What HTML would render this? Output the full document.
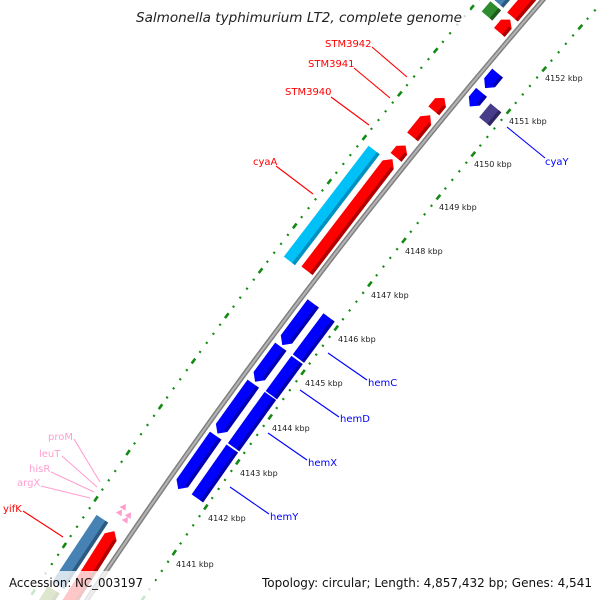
<!DOCTYPE html>
<html><head><meta charset="utf-8"><style>
html,body{margin:0;padding:0;background:#fff;overflow:hidden;width:600px;height:600px;}
#w{width:600px;height:600px;overflow:hidden;position:relative;}
svg{display:block;overflow:hidden;}
.lb{font-family:"DejaVu Sans","Liberation Sans",sans-serif;font-size:10px;}
.tk{font-family:"DejaVu Sans","Liberation Sans",sans-serif;font-size:8px;fill:#222;}
</style></head><body><div id="w">
<svg width="600" height="600" viewBox="0 0 600 600" xmlns="http://www.w3.org/2000/svg">
<defs><clipPath id="c"><rect width="600" height="600"/></clipPath></defs>
<g clip-path="url(#c)">
<rect width="600" height="600" fill="#fff"/>
<path d="M 2.5 639.4 A 5970 5970 0 0 1 545.6 -77.5" fill="none" stroke="#138a13" stroke-width="2.2" stroke-dasharray="2 9.254" stroke-dashoffset="1"/>
<path d="M 2.5 639.4 A 5970 5970 0 0 1 545.6 -77.5" fill="none" stroke="#138a13" stroke-width="2.6" stroke-dasharray="6 50.27" stroke-dashoffset="3"/>
<path d="M 82.3 690.9 A 5875 5875 0 0 1 616.8 -14.6" fill="none" stroke="#138a13" stroke-width="2.2" stroke-dasharray="2 9.074" stroke-dashoffset="1"/>
<path d="M 82.3 690.9 A 5875 5875 0 0 1 616.8 -14.6" fill="none" stroke="#138a13" stroke-width="2.6" stroke-dasharray="6 49.37" stroke-dashoffset="3"/>
<path d="M 43.6 665.9 A 5921 5921 0 0 1 582.3 -45.1" fill="none" stroke="#808080" stroke-width="5"/>
<path d="M 43.6 665.9 A 5921 5921 0 0 1 582.3 -45.1" fill="none" stroke="#b4b4b4" stroke-width="2"/>

<g transform="translate(5019 3876)">
 <g transform="rotate(217.393)"><rect x="5946" y="0" width="14" height="139.5" fill="#00c0f8"/><rect x="5946" y="0" width="3.5" height="139.5" fill="#0090c0"/></g>
 <g transform="rotate(217.42)"><polygon points="5926,0 5940,0 5940,133.6 5933,140.6 5926,133.6" fill="#ff0000"/><rect x="5926" y="0" width="3.5" height="133.6" fill="#b00000"/></g>
 <g transform="rotate(218.813)"><polygon points="5926,0 5940,0 5940,9.1 5933,15.1 5926,9.1" fill="#ff0000"/><rect x="5926" y="0" width="3.5" height="9.1" fill="#b00000"/></g>
 <g transform="rotate(219.067)"><polygon points="5926,0 5940,0 5940,20.9 5933,27.9 5926,20.9" fill="#ff0000"/><rect x="5926" y="0" width="3.5" height="20.9" fill="#b00000"/></g>
 <g transform="rotate(219.391)"><polygon points="5926,0 5940,0 5940,10.7 5933,16.7 5926,10.7" fill="#ff0000"/><rect x="5926" y="0" width="3.5" height="10.7" fill="#b00000"/></g>
 <g transform="rotate(220.379)"><polygon points="5926,0 5940,0 5940,10.7 5933,16.7 5926,10.7" fill="#ff0000"/><rect x="5926" y="0" width="3.5" height="10.7" fill="#b00000"/></g>
 <g transform="rotate(220.574)"><rect x="5926" y="0" width="14" height="176" fill="#ff0000"/><rect x="5926" y="0" width="3.5" height="176" fill="#b00000"/></g>
 <g transform="rotate(220.422)"><rect x="5946" y="0" width="14" height="13.4" fill="#2e8b2e"/><rect x="5946" y="0" width="3.5" height="13.4" fill="#1c5c1c"/></g>
 <g transform="rotate(220.584)"><rect x="5946" y="0" width="14" height="177" fill="#4682b4"/><rect x="5946" y="0" width="3.5" height="177" fill="#2d5a80"/></g>
 <g transform="rotate(213.559)"><rect x="5946" y="0" width="14" height="79.8" fill="#4682b4"/><rect x="5946" y="0" width="3.5" height="79.8" fill="#2d5a80"/></g>
 <g transform="rotate(212.29)"><rect x="5946" y="0" width="14" height="125.6" fill="#6b8e23"/><rect x="5946" y="0" width="3.5" height="125.6" fill="#4a6218"/></g>
 <g transform="rotate(212.29)"><polygon points="5926,0 5940,0 5940,200.6 5933,207.6 5926,200.6" fill="#ff0000"/><rect x="5926" y="0" width="3.5" height="200.6" fill="#b00000"/></g>
 <g transform="rotate(214.423)"><polygon points="5930,0 5937,0 5933.5,6" fill="#ff9fd0"/></g>
 <g transform="rotate(214.477)"><polygon points="5930,0 5937,0 5933.5,6" fill="#ff9fd0"/></g>
 <g transform="rotate(214.45)"><polygon points="5939,0 5946,0 5942.5,6" fill="#ff9fd0"/></g>
 <g transform="rotate(214.515)"><polygon points="5939,0 5946,0 5942.5,6" fill="#ff9fd0"/></g>
 <g transform="rotate(214.979)"><polygon points="5901,7 5908,0 5915,7 5915,65.3 5901,65.3" fill="#0000ff"/><rect x="5901" y="7" width="3.5" height="58.3" fill="#0000b0"/></g>
 <g transform="rotate(215.638)"><polygon points="5901,7 5908,0 5915,7 5915,61.4 5901,61.4" fill="#0000ff"/><rect x="5901" y="7" width="3.5" height="54.4" fill="#0000b0"/></g>
 <g transform="rotate(216.259)"><polygon points="5901,7 5908,0 5915,7 5915,43.5 5901,43.5" fill="#0000ff"/><rect x="5901" y="7" width="3.5" height="36.5" fill="#0000b0"/></g>
 <g transform="rotate(216.702)"><polygon points="5901,7 5908,0 5915,7 5915,51.9 5901,51.9" fill="#0000ff"/><rect x="5901" y="7" width="3.5" height="44.9" fill="#0000b0"/></g>
 <g transform="rotate(215.012)"><rect x="5880" y="0" width="14" height="60.8" fill="#0000ff"/><rect x="5880" y="0" width="3.5" height="60.8" fill="#0000b0"/></g>
 <g transform="rotate(215.622)"><rect x="5880" y="0" width="14" height="63.1" fill="#0000ff"/><rect x="5880" y="0" width="3.5" height="63.1" fill="#0000b0"/></g>
 <g transform="rotate(216.248)"><rect x="5880" y="0" width="14" height="43.5" fill="#0000ff"/><rect x="5880" y="0" width="3.5" height="43.5" fill="#0000b0"/></g>
 <g transform="rotate(216.691)"><rect x="5880" y="0" width="14" height="51.3" fill="#0000ff"/><rect x="5880" y="0" width="3.5" height="51.3" fill="#0000b0"/></g>
 <g transform="rotate(219.645)"><polygon points="5901,7 5908,0 5915,7 5915,18.4 5901,18.4" fill="#0000ff"/><rect x="5901" y="7" width="3.5" height="11.4" fill="#0000b0"/></g>
 <g transform="rotate(219.877)"><polygon points="5901,7 5908,0 5915,7 5915,19.5 5901,19.5" fill="#0000ff"/><rect x="5901" y="7" width="3.5" height="12.5" fill="#0000b0"/></g>
 <g transform="rotate(219.623)"><rect x="5880" y="0" width="14" height="17.9" fill="#483d8b"/><rect x="5880" y="0" width="3.5" height="17.9" fill="#2e2660"/></g>
</g>

<text class="tk" x="176" y="567">4141 kbp</text>
<text class="tk" x="208" y="521">4142 kbp</text>
<text class="tk" x="240" y="476">4143 kbp</text>
<text class="tk" x="272" y="431">4144 kbp</text>
<text class="tk" x="305" y="386">4145 kbp</text>
<text class="tk" x="338" y="342">4146 kbp</text>
<text class="tk" x="371" y="298">4147 kbp</text>
<text class="tk" x="405" y="254">4148 kbp</text>
<text class="tk" x="439" y="210">4149 kbp</text>
<text class="tk" x="474" y="167">4150 kbp</text>
<text class="tk" x="509" y="124">4151 kbp</text>
<text class="tk" x="545" y="81">4152 kbp</text>

<g stroke-width="1.1" fill="none">
 <line x1="372" y1="47" x2="407" y2="77" stroke="#ff0000"/>
 <line x1="354" y1="68" x2="390" y2="98" stroke="#ff0000"/>
 <line x1="331" y1="97" x2="369" y2="125" stroke="#ff0000"/>
 <line x1="276" y1="166" x2="313" y2="194" stroke="#ff0000"/>
 <line x1="23" y1="511" x2="63" y2="537" stroke="#ff0000"/>
 <line x1="74" y1="439" x2="100" y2="482" stroke="#ff9fd0"/>
 <line x1="62" y1="456" x2="97" y2="487" stroke="#ff9fd0"/>
 <line x1="51" y1="472" x2="94" y2="492" stroke="#ff9fd0"/>
 <line x1="41" y1="486" x2="90" y2="498" stroke="#ff9fd0"/>
 <line x1="507" y1="127" x2="545" y2="158" stroke="#0000ff"/>
 <line x1="328" y1="353" x2="367" y2="380" stroke="#0000ff"/>
 <line x1="300" y1="390" x2="339" y2="417" stroke="#0000ff"/>
 <line x1="268" y1="433" x2="307" y2="460" stroke="#0000ff"/>
 <line x1="230" y1="487" x2="269" y2="514" stroke="#0000ff"/>
</g>
<text class="lb" x="325" y="47" fill="#ff0000">STM3942</text>
<text class="lb" x="308" y="67" fill="#ff0000">STM3941</text>
<text class="lb" x="285" y="95" fill="#ff0000">STM3940</text>
<text class="lb" x="253" y="165" fill="#ff0000">cyaA</text>
<text class="lb" x="3" y="512" fill="#ff0000">yifK</text>
<text class="lb" x="48" y="440" fill="#ff9fd0">proM</text>
<text class="lb" x="39" y="457" fill="#ff9fd0">leuT</text>
<text class="lb" x="29" y="472" fill="#ff9fd0">hisR</text>
<text class="lb" x="17" y="486" fill="#ff9fd0">argX</text>
<text class="lb" x="545" y="165" fill="#0000ff">cyaY</text>
<text class="lb" x="368" y="386" fill="#0000ff">hemC</text>
<text class="lb" x="340" y="422" fill="#0000ff">hemD</text>
<text class="lb" x="308" y="466" fill="#0000ff">hemX</text>
<text class="lb" x="270" y="520" fill="#0000ff">hemY</text>

<rect x="130" y="0" width="340" height="29" fill="#fff" fill-opacity="0.75"/>
<text x="299" y="22" text-anchor="middle" font-family="DejaVu Sans, Liberation Sans, sans-serif" font-style="italic" font-size="13" fill="#222" textLength="326" lengthAdjust="spacingAndGlyphs">Salmonella typhimurium LT2, complete genome</text>
<rect x="0" y="571" width="155" height="29" fill="#fff" fill-opacity="0.78"/>
<rect x="255" y="571" width="345" height="29" fill="#fff" fill-opacity="0.78"/>
<text x="9" y="587" font-family="DejaVu Sans, Liberation Sans, sans-serif" font-size="12.5" fill="#111" textLength="134" lengthAdjust="spacingAndGlyphs">Accession: NC_003197</text>
<text x="262" y="587" font-family="DejaVu Sans, Liberation Sans, sans-serif" font-size="12.5" fill="#111" textLength="330" lengthAdjust="spacingAndGlyphs">Topology: circular; Length: 4,857,432 bp; Genes: 4,541</text>
</g>
</svg>
</div></body></html>
